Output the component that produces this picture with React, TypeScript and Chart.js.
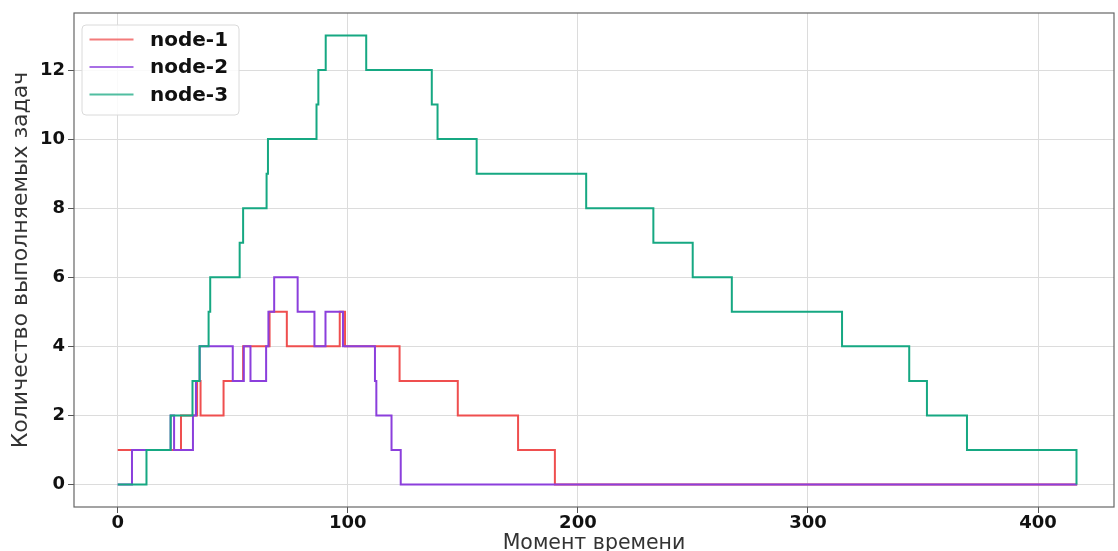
import React, { useEffect, useRef } from "react";
import { Chart, registerables } from "chart.js";

Chart.register(...registerables);

// ---- data ----
const seriesLabels = ["node-1", "node-2", "node-3"];
const seriesColors = ["#ef4f4f", "#8b3fdc", "#16a882"];

// moment at which the count changes, and the count from that moment on
const node1Times = [0, 27.5, 34.5, 36, 46, 54.5, 66, 73.5, 96.5, 98.8, 122.5, 147.8, 174, 190, 417];
const node1Counts = [1, 2, 3, 2, 3, 4, 5, 4, 5, 4, 3, 2, 1, 0, 0];

const node2Times = [0, 6.2, 23, 24.5, 32.7, 34, 35.6, 50, 54.8, 57.7, 64.5, 65.5, 68, 78.2, 85.5, 90.3, 97.9, 111.8, 112.4, 119, 123, 417];
const node2Counts = [0, 1, 2, 1, 2, 3, 4, 3, 4, 3, 4, 5, 6, 5, 4, 5, 4, 3, 2, 1, 0, 0];

const node3Times = [0, 12.5, 23, 32.5, 35.6, 39.5, 40.2, 53, 54.5, 64.7, 65.3, 86.4, 87.2, 90.4, 108, 136.5, 139, 156, 203.6, 232.8, 249.9, 266.9, 314.8, 344, 351.7, 369.1, 416.7];
const node3Counts = [0, 1, 2, 3, 4, 5, 6, 7, 8, 9, 10, 11, 12, 13, 12, 11, 10, 9, 8, 7, 6, 5, 4, 3, 2, 1, 0];

const xTicks = [0, 100, 200, 300, 400];
const yTicks = [0, 2, 4, 6, 8, 10, 12];
const xTitle = "Момент времени";
const yTitle = "Количество выполняемых задач";

const FONT = "'DejaVu Sans', sans-serif";

const toPoints = (times: number[], counts: number[]) =>
  times.map((t, i) => ({ x: t, y: counts[i] }));

const framePlugin = {
  id: "frameAndLegend",
  afterDatasetsDraw(chart: any) {
    const ctx = chart.ctx as CanvasRenderingContext2D;
    const a = chart.chartArea;
    ctx.save();
    // frame (spines)
    ctx.strokeStyle = "#666";
    ctx.lineWidth = 1.2;
    ctx.strokeRect(a.left, a.top, a.right - a.left, a.bottom - a.top);

    // legend box
    const x0 = a.left + 8;
    const y0 = a.top + 12;
    const w = 157;
    const h = 90;
    ctx.beginPath();
    (ctx as any).roundRect(x0, y0, w, h, 4);
    ctx.fillStyle = "rgba(255,255,255,0.85)";
    ctx.fill();
    ctx.strokeStyle = "#dadada";
    ctx.lineWidth = 1;
    ctx.stroke();

    chart.data.datasets.forEach((ds: any, i: number) => {
      const cy = y0 + 14.5 + i * 27.5;
      ctx.beginPath();
      ctx.moveTo(x0 + 7.5, cy);
      ctx.lineTo(x0 + 51.5, cy);
      ctx.strokeStyle = ds.borderColor;
      ctx.globalAlpha = 0.75;
      ctx.lineWidth = 2;
      ctx.stroke();
      ctx.globalAlpha = 1;
      ctx.fillStyle = "#111";
      ctx.font = `bold 20px ${FONT}`;
      ctx.textAlign = "left";
      ctx.textBaseline = "middle";
      ctx.fillText(ds.label, x0 + 68, cy + 1);
    });
    ctx.restore();
  },
};

export default function App() {
  const canvasRef = useRef<HTMLCanvasElement | null>(null);

  useEffect(() => {
    document.body.style.margin = "0";
    const canvas = canvasRef.current;
    if (!canvas) return;

    const datasets = [
      { label: seriesLabels[0], data: toPoints(node1Times, node1Counts), borderColor: seriesColors[0], order: 3 },
      { label: seriesLabels[1], data: toPoints(node2Times, node2Counts), borderColor: seriesColors[1], order: 2 },
      { label: seriesLabels[2], data: toPoints(node3Times, node3Counts), borderColor: seriesColors[2], order: 1 },
    ].map((d) => ({
      ...d,
      backgroundColor: d.borderColor,
      borderWidth: 2,
      pointRadius: 0,
      fill: false,
      stepped: "before" as const,
      tension: 0,
    }));

    const chart = new Chart(canvas, {
      type: "line",
      data: { datasets },
      options: {
        responsive: false,
        animation: false,
        layout: { padding: { left: 0, right: 4, top: 13, bottom: 0 } },
        plugins: { legend: { display: false }, tooltip: { enabled: false } },
        scales: {
          x: {
            type: "linear",
            position: "bottom",
            min: -19,
            max: 433,
            afterBuildTicks: (s: any) => {
              s.ticks = xTicks.map((v) => ({ value: v }));
            },
            afterFit: (s: any) => {
              s.height = 44;
            },
            ticks: {
              font: { family: FONT, size: 18, weight: "bold", lineHeight: 1 },
              color: "#111",
              padding: 1,
              maxRotation: 0,
              callback: (v: any) => String(v),
            },
            grid: { color: "#dcdcdc", lineWidth: 1, tickColor: "#555", tickLength: 6 },
            border: { display: false },
            title: {
              display: true,
              text: xTitle,
              color: "#333",
              font: { family: FONT, size: 20.5, lineHeight: 1 },
              padding: { top: 0, bottom: -3 },
            },
          },
          y: {
            type: "linear",
            min: -0.65,
            max: 13.65,
            afterBuildTicks: (s: any) => {
              s.ticks = yTicks.map((v) => ({ value: v }));
            },
            afterFit: (s: any) => {
              s.width = 74;
            },
            ticks: {
              font: { family: FONT, size: 18, weight: "bold", lineHeight: 1 },
              color: "#111",
              padding: 3,
              callback: (v: any) => String(v),
            },
            grid: { color: "#dcdcdc", lineWidth: 1, tickColor: "#555", tickLength: 6 },
            border: { display: false },
            title: {
              display: true,
              text: yTitle,
              color: "#333",
              font: { family: FONT, size: 22, lineHeight: 1 },
              padding: { top: 10, bottom: 0 },
            },
          },
        },
      },
      plugins: [framePlugin],
    });

    return () => chart.destroy();
  }, []);

  return (
    <div style={{ width: 1118, height: 551, position: "relative" }}>
      <canvas ref={canvasRef} width={1118} height={551} style={{ display: "block" }} />
    </div>
  );
}
